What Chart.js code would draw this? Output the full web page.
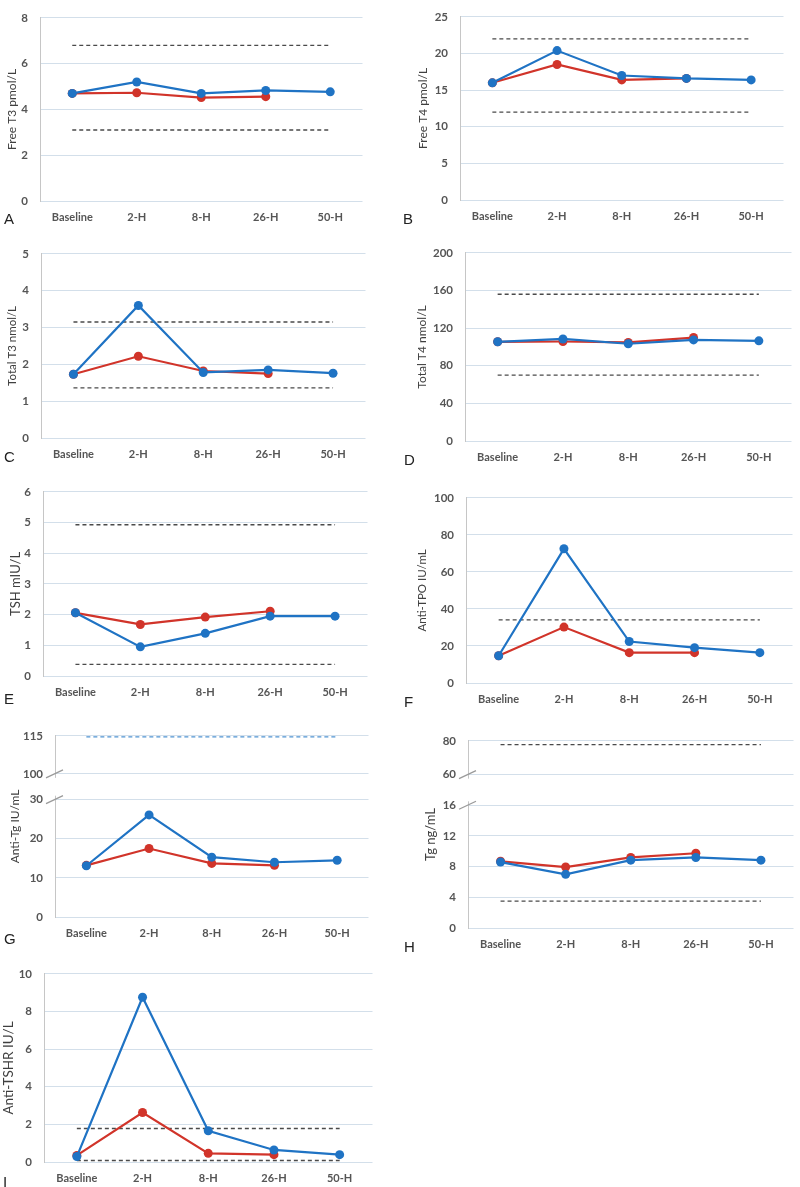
<!DOCTYPE html>
<html>
<head>
<meta charset="utf-8">
<script src="https://cdn.jsdelivr.net/npm/chart.js@4.4.0/dist/chart.umd.min.js"></script>
<style>
  body { margin: 0; background: #fff; }
  #page { position: relative; width: 800px; height: 1187px; overflow: hidden; }
  .panel { position: absolute; }
  .letter { position: absolute; font-family: 'Liberation Sans', Arial, sans-serif; font-size: 15px; color: #222; line-height: 1; }
</style>
</head>
<body>
<div id="page"></div>
<script>
const timePoints = ['Baseline', '2-H', '8-H', '26-H', '50-H'];

// A - Free T3
const ft3Blue = [4.7, 5.2, 4.7, 4.83, 4.77];
const ft3Red = [4.7, 4.73, 4.52, 4.56, null];
const ft3Ref = [6.8, 3.1];
// B - Free T4
const ft4Blue = [16.0, 20.4, 17.0, 16.6, 16.4];
const ft4Red = [16.0, 18.5, 16.4, 16.6, null];
const ft4Ref = [22.0, 12.0];
// C - Total T3
const tt3Blue = [1.73, 3.6, 1.78, 1.85, 1.76];
const tt3Red = [1.73, 2.22, 1.82, 1.75, null];
const tt3Ref = [3.15, 1.36];
// D - Total T4
const tt4Blue = [105.5, 108.5, 103.4, 107.5, 106.5];
const tt4Red = [105.5, 105.8, 104.8, 110.0, null];
const tt4Ref = [156, 70];
// E - TSH
const tshBlue = [2.06, 0.95, 1.39, 1.95, 1.95];
const tshRed = [2.06, 1.68, 1.92, 2.11, null];
const tshRef = [4.93, 0.38];
// F - Anti-TPO
const tpoBlue = [14.7, 72.5, 22.4, 19.1, 16.4];
const tpoRed = [14.7, 30.2, 16.4, 16.4, null];
const tpoRef = [34.1];
// G - Anti-Tg (broken axis)
const tgabBlue = [13.1, 26.1, 15.3, 14.0, 14.5];
const tgabRed = [13.2, 17.5, 13.7, 13.2, null];
const tgabRef = [114.6];
const tgabTicks = [0, 10, 20, 30, 100, 115];
// H - Tg (broken axis)
const tgBlue = [8.6, 7.0, 8.85, 9.2, 8.85];
const tgRed = [8.7, 7.95, 9.2, 9.75, null];
const tgRef = [77.8, 3.5];
const tgTicks = [0, 4, 8, 12, 16, 60, 80];
// I - Anti-TSHR
const trabBlue = [0.29, 8.76, 1.66, 0.64, 0.39];
const trabRed = [0.35, 2.63, 0.46, 0.39, null];
const trabRef = [1.78, 0.08];

const BLUE = '#1f73c4';
const RED = '#d1342a';

function brokenValue(v, br) {
  if (v == null) return null;
  return v <= br.low ? v : br.highPos + (v - br.high) * br.scale;
}

const breakPlugin = {
  id: 'axisBreak',
  afterDraw(chart, args, opts) {
    if (!opts || opts.highPos == null) return;
    const ctx = chart.ctx;
    const y = chart.scales.y;
    const x0 = chart.chartArea.left;
    const yLow = y.getPixelForValue(opts.lowPos);
    const yHigh = y.getPixelForValue(opts.highPos);
    ctx.save();
    ctx.fillStyle = '#fff';
    ctx.fillRect(x0 - 2, yHigh + 4, 4, yLow - yHigh - 8);
    ctx.strokeStyle = '#9a9a9a';
    ctx.lineWidth = 1.2;
    [yLow, yHigh].forEach(py => {
      ctx.beginPath();
      ctx.moveTo(x0 - 9, py + 4);
      ctx.lineTo(x0 + 8, py - 4);
      ctx.stroke();
    });
    ctx.restore();
  }
};

const panels = [
  {letter: 'A', lx: 4, ly: 211, title: 'Free T3 pmol/L', titleX: 12, titleSize: 12, left: 40, top: 9, right: 367, bottom: 201, max: 8, step: 2, blue: ft3Blue, red: ft3Red, refs: ft3Ref},
  {letter: 'B', lx: 403, ly: 211, title: 'Free T4 pmol/L', titleX: 423, titleSize: 12, left: 460, top: 8, right: 788, bottom: 200, max: 25, step: 5, blue: ft4Blue, red: ft4Red, refs: ft4Ref},
  {letter: 'C', lx: 4, ly: 449, title: 'Total T3 nmol/L', titleX: 12, titleSize: 11.5, left: 41, top: 245, right: 370, bottom: 438, max: 5, step: 1, blue: tt3Blue, red: tt3Red, refs: tt3Ref},
  {letter: 'D', lx: 404, ly: 452, title: 'Total T4 nmol/L', titleX: 422, titleSize: 12, left: 465, top: 244, right: 796, bottom: 441, max: 200, step: 40, blue: tt4Blue, red: tt4Red, refs: tt4Ref},
  {letter: 'E', lx: 4, ly: 691, title: 'TSH mIU/L', titleX: 15, titleSize: 13, left: 43, top: 483, right: 372, bottom: 676, max: 6, step: 1, blue: tshBlue, red: tshRed, refs: tshRef},
  {letter: 'F', lx: 404, ly: 694, title: 'Anti-TPO IU/mL', titleX: 422, titleSize: 11.5, left: 466, top: 489, right: 797, bottom: 683, max: 100, step: 20, blue: tpoBlue, red: tpoRed, refs: tpoRef},
  {letter: 'G', lx: 4, ly: 931, title: 'Anti-Tg IU/mL', titleX: 15, titleSize: 12, left: 55, top: 727, right: 373, bottom: 917, tickLabels: tgabTicks,
   brk: {low: 30, high: 100, lowPos: 30, highPos: 36.6, scale: 9.7 / 15}, blue: tgabBlue, red: tgabRed, refs: tgabRef, refColor: '#4f93d2'},
  {letter: 'H', lx: 404, ly: 939, title: 'Tg ng/mL', titleX: 430, titleSize: 13, left: 468, top: 732, right: 798, bottom: 928, tickLabels: tgTicks,
   brk: {low: 16, high: 60, lowPos: 16, highPos: 20, scale: 4.4 / 20}, blue: tgBlue, red: tgRed, refs: tgRef},
  {letter: 'I', lx: 3, ly: 1174, title: 'Anti-TSHR IU/L', titleX: 8, titleSize: 13.5, left: 44, top: 965, right: 377, bottom: 1162, max: 10, step: 2, blue: trabBlue, red: trabRed, refs: trabRef}
];

const page = document.getElementById('page');

panels.forEach(p => {
  const boxLeft = Math.max(0, p.titleX - 7);
  const box = document.createElement('div');
  box.className = 'panel';
  box.style.left = boxLeft + 'px';
  box.style.top = (p.top - 10) + 'px';
  box.style.width = (p.right - boxLeft) + 'px';
  box.style.height = (p.bottom - p.top + 40) + 'px';
  const canvas = document.createElement('canvas');
  box.appendChild(canvas);
  page.appendChild(box);

  const letter = document.createElement('div');
  letter.className = 'letter';
  letter.textContent = p.letter;
  letter.style.left = p.lx + 'px';
  letter.style.top = p.ly + 'px';
  page.appendChild(letter);

  const map = p.brk ? v => brokenValue(v, p.brk) : v => v;
  const yMax = p.brk ? map(p.tickLabels[p.tickLabels.length - 1]) : p.max;

  const datasets = [
    {data: p.blue.map(map), borderColor: BLUE, backgroundColor: BLUE, borderWidth: 2.2, pointRadius: 4.5, pointBorderWidth: 0},
    {data: p.red.map(map), borderColor: RED, backgroundColor: RED, borderWidth: 2.2, pointRadius: 4.5, pointBorderWidth: 0}
  ];
  p.refs.forEach(r => {
    datasets.push({
      data: timePoints.map(() => map(r)),
      borderColor: p.refColor || '#4a4a4a',
      borderDash: [4, 3],
      borderWidth: 1.4,
      pointRadius: 0,
      clip: false
    });
  });

  const yTicks = {
    padding: 12,
    color: '#555',
    font: {family: 'Lato', size: 11.5, weight: 'bold'}
  };
  if (p.brk) {
    yTicks.callback = (val, i) => p.tickLabels[i];
  } else {
    yTicks.stepSize = p.step;
  }

  new Chart(canvas, {
    type: 'line',
    data: {labels: timePoints, datasets: datasets},
    options: {
      responsive: true,
      maintainAspectRatio: false,
      animation: false,
      layout: {padding: {top: 10, right: 0, left: 0, bottom: 0}},
      plugins: {
        legend: {display: false},
        tooltip: {enabled: false},
        axisBreak: p.brk || {}
      },
      scales: {
        x: {
          offset: true,
          grid: {display: false, drawTicks: false},
          border: {display: false},
          ticks: {padding: 10, maxRotation: 0, color: '#555', font: {family: 'Lato', size: 11, weight: 'bold'}},
          afterFit: s => { s.height = 30; }
        },
        y: {
          min: 0,
          max: yMax,
          ticks: yTicks,
          afterBuildTicks: p.brk ? s => { s.ticks = p.tickLabels.map(v => ({value: map(v)})); } : undefined,
          afterFit: s => { s.width = p.left - boxLeft; },
          grid: {color: '#d3dfea', lineWidth: 1, drawTicks: false},
          border: {color: '#c6c6c6'},
          title: {display: true, text: p.title, padding: 0, color: '#404040', font: {family: 'Lato', size: p.titleSize}}
        }
      }
    },
    plugins: [breakPlugin]
  });
});
</script>
</body>
</html>
